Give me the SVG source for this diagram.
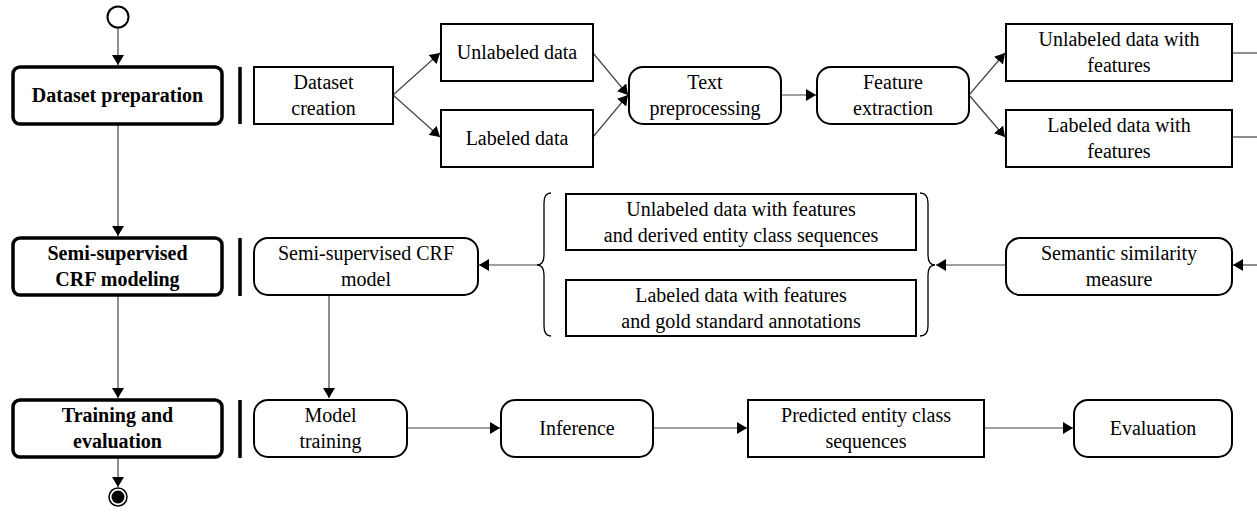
<svg xmlns="http://www.w3.org/2000/svg" width="1257" height="514" viewBox="0 0 1257 514">
  <style>
    .phase { fill: #fff; stroke: #000; stroke-width: 3.5; }
    .act { fill: #fff; stroke: #000; stroke-width: 2; }
    .obj { fill: #fff; stroke: #000; stroke-width: 2; }
    .bar { stroke: #000; stroke-width: 3.5; }
    .labels text { font-size: 20px; fill: #000; text-anchor: middle; }
    .tb { font-weight: bold; }
    .edge { fill: none; stroke: #444; stroke-width: 1.2; }
    .brace { fill: none; stroke: #000; stroke-width: 1.3; }
  </style>
  <defs>
    <marker id="arr" viewBox="0 0 10 12" refX="10" refY="6" markerWidth="10" markerHeight="12" markerUnits="userSpaceOnUse" orient="auto">
      <path d="M0,0 L10,6 L0,12 z" fill="#000"/>
    </marker>
  </defs>

  <!-- connectors -->
  <g id="connectors">
    <line class="edge" x1="118" y1="28" x2="118" y2="65" marker-end="url(#arr)"/>
    <line class="edge" x1="118" y1="124" x2="118" y2="236" marker-end="url(#arr)"/>
    <line class="edge" x1="118" y1="295" x2="118" y2="398" marker-end="url(#arr)"/>
    <line class="edge" x1="118" y1="457" x2="118" y2="487" marker-end="url(#arr)"/>

    <line class="edge" x1="393" y1="95" x2="440" y2="53" marker-end="url(#arr)"/>
    <line class="edge" x1="393" y1="95" x2="440" y2="137" marker-end="url(#arr)"/>
    <line class="edge" x1="593" y1="53" x2="628" y2="95" marker-end="url(#arr)"/>
    <line class="edge" x1="593" y1="137" x2="628" y2="95" marker-end="url(#arr)"/>
    <line class="edge" x1="781" y1="95" x2="816" y2="95" marker-end="url(#arr)"/>
    <line class="edge" x1="969" y1="95" x2="1005" y2="53" marker-end="url(#arr)"/>
    <line class="edge" x1="969" y1="95" x2="1005" y2="137" marker-end="url(#arr)"/>
    <line class="edge" x1="1232" y1="53" x2="1257" y2="53"/>
    <line class="edge" x1="1232" y1="137" x2="1257" y2="137"/>

    <line class="edge" x1="1257" y1="265" x2="1233" y2="265" marker-end="url(#arr)"/>
    <line class="edge" x1="1006" y1="265" x2="936" y2="265" marker-end="url(#arr)"/>
    <line class="edge" x1="537" y1="265" x2="479" y2="265" marker-end="url(#arr)"/>

    <line class="edge" x1="329" y1="295" x2="329" y2="398" marker-end="url(#arr)"/>
    <line class="edge" x1="407" y1="428" x2="500" y2="428" marker-end="url(#arr)"/>
    <line class="edge" x1="653" y1="428" x2="747" y2="428" marker-end="url(#arr)"/>
    <line class="edge" x1="984" y1="428" x2="1073" y2="428" marker-end="url(#arr)"/>
  </g>

  <!-- start / end -->
  <g id="start">
    <circle cx="118" cy="17" r="10.5" fill="#fff" stroke="#000" stroke-width="2"/>
  </g>
  <g id="end">
    <circle cx="118" cy="497" r="9" fill="#fff" stroke="#000" stroke-width="1.5"/>
    <circle cx="118" cy="497" r="6.5" fill="#000"/>
  </g>

  <g class="labels" font-family="Liberation Serif, Times New Roman, Times, Tinos, Noto Serif, FreeSerif, serif">
  <!-- phases -->
  <g id="phase-dataset">
    <rect class="phase" x="13" y="67" width="209" height="57" rx="7"/>
    <text class="tb" x="117.5" y="102">Dataset preparation</text>
  </g>
  <g id="phase-crf">
    <rect class="phase" x="13" y="238" width="209" height="57" rx="7"/>
    <text class="tb" x="117.5" y="260">Semi-supervised</text>
    <text class="tb" x="117.5" y="286">CRF modeling</text>
  </g>
  <g id="phase-training">
    <rect class="phase" x="13" y="400" width="209" height="57" rx="7"/>
    <text class="tb" x="117.5" y="422">Training and</text>
    <text class="tb" x="117.5" y="448">evaluation</text>
  </g>

  <g id="bars">
    <line class="bar" x1="240" y1="67" x2="240" y2="124"/>
    <line class="bar" x1="240" y1="238" x2="240" y2="296"/>
    <line class="bar" x1="240" y1="400" x2="240" y2="458"/>
  </g>

  <!-- row 1 -->
  <g id="dataset-creation">
    <rect class="obj" x="254" y="67" width="139" height="57"/>
    <text x="323.5" y="89">Dataset</text>
    <text x="323.5" y="115">creation</text>
  </g>
  <g id="unlabeled-data">
    <rect class="obj" x="441" y="24" width="152" height="57"/>
    <text x="517" y="59">Unlabeled data</text>
  </g>
  <g id="labeled-data">
    <rect class="obj" x="441" y="110" width="152" height="57"/>
    <text x="517" y="145">Labeled data</text>
  </g>
  <g id="text-preprocessing">
    <rect class="act" x="629" y="67" width="152" height="57" rx="14"/>
    <text x="705" y="89">Text</text>
    <text x="705" y="115">preprocessing</text>
  </g>
  <g id="feature-extraction">
    <rect class="act" x="817" y="67" width="152" height="57" rx="14"/>
    <text x="893" y="89">Feature</text>
    <text x="893" y="115">extraction</text>
  </g>
  <g id="unlabeled-features">
    <rect class="obj" x="1006" y="24" width="226" height="57"/>
    <text x="1119" y="46">Unlabeled data with</text>
    <text x="1119" y="72">features</text>
  </g>
  <g id="labeled-features">
    <rect class="obj" x="1006" y="110" width="226" height="57"/>
    <text x="1119" y="132">Labeled data with</text>
    <text x="1119" y="158">features</text>
  </g>

  <!-- row 2 -->
  <g id="crf-model">
    <rect class="act" x="254" y="238" width="224" height="57" rx="14"/>
    <text x="366" y="260">Semi-supervised CRF</text>
    <text x="366" y="286">model</text>
  </g>
  <g id="training-sets">
    <path class="brace" d="M551,193 Q544,193 544,203 L544,255 Q544,265 537,265 Q544,265 544,275 L544,326 Q544,336 551,336"/>
    <path class="brace" d="M920,193 Q928,193 928,203 L928,255 Q928,265 935,265 Q928,265 928,275 L928,326 Q928,336 920,336"/>
  </g>
  <g id="unlabeled-derived">
    <rect class="obj" x="566" y="194" width="350" height="56"/>
    <text x="741" y="216">Unlabeled data with features</text>
    <text x="741" y="242">and derived entity class sequences</text>
  </g>
  <g id="labeled-gold">
    <rect class="obj" x="566" y="280" width="350" height="56"/>
    <text x="741" y="302">Labeled data with features</text>
    <text x="741" y="328">and gold standard annotations</text>
  </g>
  <g id="semantic-similarity">
    <rect class="act" x="1006" y="238" width="226" height="57" rx="14"/>
    <text x="1119" y="260">Semantic similarity</text>
    <text x="1119" y="286">measure</text>
  </g>

  <!-- row 3 -->
  <g id="model-training">
    <rect class="act" x="254" y="400" width="153" height="57" rx="14"/>
    <text x="330.5" y="422">Model</text>
    <text x="330.5" y="448">training</text>
  </g>
  <g id="inference">
    <rect class="act" x="501" y="400" width="152" height="57" rx="14"/>
    <text x="577" y="435">Inference</text>
  </g>
  <g id="predicted-sequences">
    <rect class="obj" x="748" y="400" width="236" height="57"/>
    <text x="866" y="422">Predicted entity class</text>
    <text x="866" y="448">sequences</text>
  </g>
  <g id="evaluation">
    <rect class="act" x="1074" y="400" width="158" height="57" rx="14"/>
    <text x="1153" y="435">Evaluation</text>
  </g>
  </g>
</svg>
